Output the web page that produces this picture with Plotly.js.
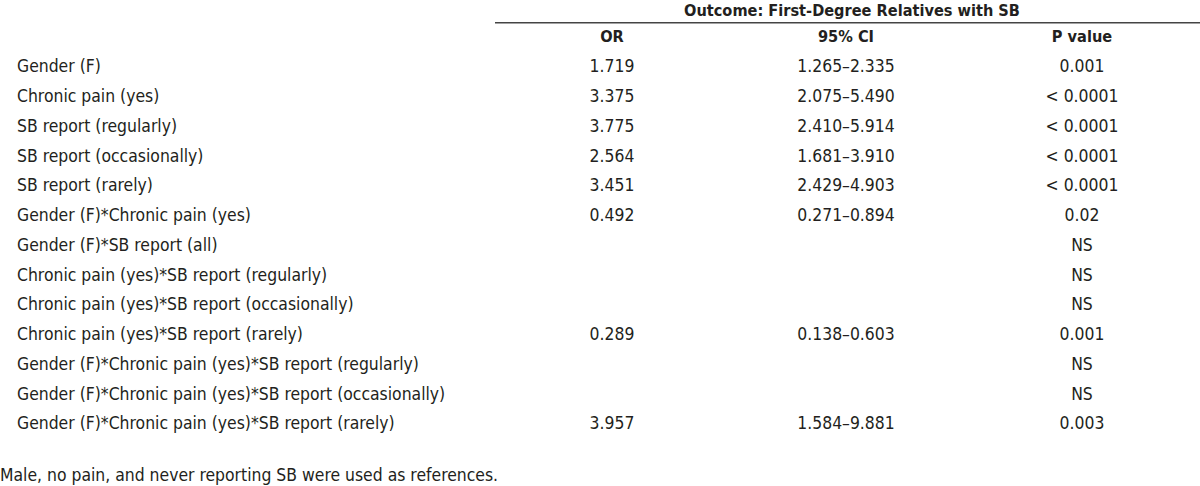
<!DOCTYPE html>
<html>
<head>
<meta charset="utf-8">
<script src="https://cdn.plot.ly/plotly-3.0.1.min.js"></script>
<style>html,body{margin:0;padding:0;background:#fff;}#chart{width:1200px;height:486px;}</style>
</head>
<body>
<div id="chart"></div>
<script>
const outcomeTitle = 'Outcome: First-Degree Relatives with SB';
const columnHeaders = ['OR', '95% CI', 'P value'];
const rowLabels = [
  'Gender (F)',
  'Chronic pain (yes)',
  'SB report (regularly)',
  'SB report (occasionally)',
  'SB report (rarely)',
  'Gender (F)*Chronic pain (yes)',
  'Gender (F)*SB report (all)',
  'Chronic pain (yes)*SB report (regularly)',
  'Chronic pain (yes)*SB report (occasionally)',
  'Chronic pain (yes)*SB report (rarely)',
  'Gender (F)*Chronic pain (yes)*SB report (regularly)',
  'Gender (F)*Chronic pain (yes)*SB report (occasionally)',
  'Gender (F)*Chronic pain (yes)*SB report (rarely)'
];
const orValues = ['1.719', '3.375', '3.775', '2.564', '3.451', '0.492', '', '', '', '0.289', '', '', '3.957'];
const ciValues = ['1.265–2.335', '2.075–5.490', '2.410–5.914', '1.681–3.910', '2.429–4.903', '0.271–0.894', '', '', '', '0.138–0.603', '', '', '1.584–9.881'];
const pValues = ['0.001', '< 0.0001', '< 0.0001', '< 0.0001', '< 0.0001', '0.02', 'NS', 'NS', 'NS', '0.001', 'NS', 'NS', '0.003'];
const footnote = 'Male, no pain, and never reporting SB were used as references.';

// layout constants (positions in axis units)
const FONT = '"Liberation Sans Narrow", "Arial Narrow", "DejaVu Sans Condensed", sans-serif';
const TXT = '#231f20';
const FS = 17.4;
const FSB = 16.2;
const labelX = 17;
const colX = [612, 846, 1082];
const rowIdx = rowLabels.map((_, i) => i);

function colTrace(x, vals) {
  return {
    type: 'scatter', mode: 'text',
    x: vals.map(() => x), y: rowIdx, text: vals,
    textposition: 'middle center',
    textfont: {family: FONT, size: FS, color: TXT},
    hoverinfo: 'skip', showlegend: false, cliponaxis: false
  };
}

const traces = [
  {
    type: 'scatter', mode: 'text',
    x: rowLabels.map(() => labelX), y: rowIdx, text: rowLabels,
    textposition: 'middle right',
    textfont: {family: FONT, size: FS, color: TXT},
    hoverinfo: 'skip', showlegend: false, cliponaxis: false
  },
  colTrace(colX[0], orValues),
  colTrace(colX[1], ciValues),
  colTrace(colX[2], pValues),
  {
    type: 'scatter', mode: 'text',
    x: colX, y: columnHeaders.map(() => -1), text: columnHeaders.map(h => '<b>' + h + '</b>'),
    textposition: 'middle center',
    textfont: {family: FONT, size: FSB, color: TXT},
    hoverinfo: 'skip', showlegend: false, cliponaxis: false
  },
  {
    type: 'scatter', mode: 'text',
    x: [852], y: [-1.88], text: ['<b>' + outcomeTitle + '</b>'],
    textposition: 'middle center',
    textfont: {family: FONT, size: FSB, color: TXT},
    hoverinfo: 'skip', showlegend: false, cliponaxis: false
  },
  {
    type: 'scatter', mode: 'text',
    x: [0], y: [13.75], text: [footnote],
    textposition: 'middle right',
    textfont: {family: FONT, size: FS, color: TXT},
    hoverinfo: 'skip', showlegend: false, cliponaxis: false
  }
];

const layout = {
  width: 1200, height: 486,
  margin: {l: 0, r: 0, t: 0, b: 0, pad: 0},
  paper_bgcolor: '#fff', plot_bgcolor: '#fff',
  showlegend: false,
  hovermode: false,
  xaxis: {range: [0, 1200], visible: false, fixedrange: true},
  yaxis: {range: [14.05, -2.2857], visible: false, fixedrange: true},
  shapes: [
    {type: 'line', xref: 'x', yref: 'y', x0: 495, x1: 1200, y0: -1.52, y1: -1.52,
     line: {color: '#444', width: 1.5}}
  ]
};

Plotly.newPlot('chart', traces, layout, {staticPlot: true, displayModeBar: false});
</script>
</body>
</html>
